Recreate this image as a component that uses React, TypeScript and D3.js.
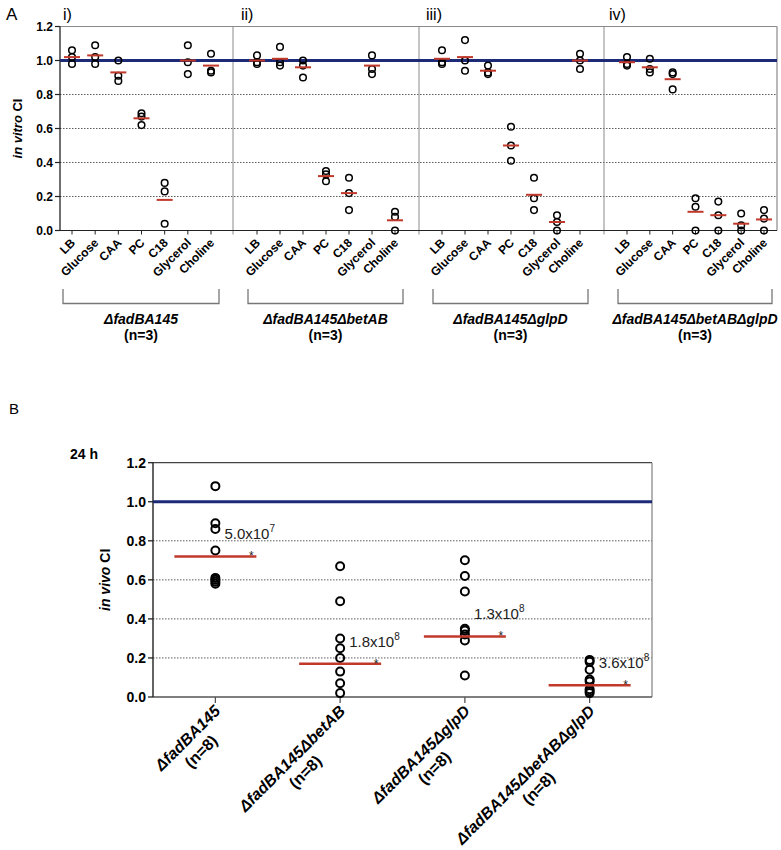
import React from "react";
import * as d3 from "d3";

// ---------- DATA ----------
const panelTitles = ["i)", "ii)", "iii)", "iv)"];
const strains = ["ΔfadBA145", "ΔfadBA145ΔbetAB", "ΔfadBA145ΔglpD", "ΔfadBA145ΔbetABΔglpD"];
const media = ["LB", "Glucose", "CAA", "PC", "C18", "Glycerol", "Choline"];
const nVitro = "(n=3)";
const nVivo = "(n=8)";

// in vitro CI, per medium (3 replicates each)
const vitroP1 = [[1.06, 1.02, 0.98], [1.09, 1.02, 0.98], [1.0, 0.91, 0.88], [0.69, 0.67, 0.62], [0.28, 0.23, 0.04], [1.09, 0.99, 0.92], [1.04, 0.94, 0.93]];
const vitroP2 = [[1.03, 0.99, 0.98], [1.08, 0.99, 0.97], [1.0, 0.97, 0.9], [0.35, 0.33, 0.29], [0.31, 0.22, 0.12], [1.03, 0.95, 0.92], [0.11, 0.08, 0.0]];
const vitroP3 = [[1.06, 0.99, 0.98], [1.12, 1.0, 0.94], [0.97, 0.93, 0.92], [0.61, 0.5, 0.41], [0.31, 0.19, 0.12], [0.09, 0.05, 0.0], [1.04, 1.0, 0.95]];
const vitroP4 = [[1.02, 0.98, 0.97], [1.01, 0.95, 0.93], [0.93, 0.92, 0.83], [0.19, 0.14, 0.0], [0.17, 0.09, 0.0], [0.1, 0.03, 0.0], [0.12, 0.07, 0.0]];
const vitroMeanP1 = [1.02, 1.03, 0.93, 0.66, 0.18, 1.0, 0.97];
const vitroMeanP2 = [1.0, 1.01, 0.96, 0.32, 0.22, 0.97, 0.06];
const vitroMeanP3 = [1.01, 1.02, 0.94, 0.5, 0.21, 0.05, 1.0];
const vitroMeanP4 = [0.99, 0.96, 0.89, 0.11, 0.09, 0.04, 0.065];

// in vivo CI at 24 h (8 mice each)
const vivo1 = [1.08, 0.89, 0.86, 0.75, 0.61, 0.6, 0.59, 0.58];
const vivo2 = [0.67, 0.49, 0.3, 0.25, 0.2, 0.13, 0.07, 0.02];
const vivo3 = [0.7, 0.62, 0.54, 0.35, 0.34, 0.32, 0.29, 0.11];
const vivo4 = [0.19, 0.18, 0.14, 0.09, 0.08, 0.04, 0.03, 0.02];
const vivoMeans = [0.72, 0.17, 0.31, 0.06];
const vivoAnnBase = ["5.0x10", "1.8x10", "1.3x10", "3.6x10"];
const vivoAnnExp = ["7", "8", "8", "8"];

const yTicks = [0, 0.2, 0.4, 0.6, 0.8, 1.0, 1.2];
const gridTicks = [0.2, 0.4, 0.6, 0.8];

// ---------- STYLE ----------
const FONT = "'Liberation Sans', Arial, Helvetica, sans-serif";
const RED = "#c0392b";
const NAVY = "#1c2a78";
const GRAY = "#8a8a8a";

let _ctx: CanvasRenderingContext2D | null = null;
function textWidth(t: string, font: string) {
  if (!_ctx) _ctx = document.createElement("canvas").getContext("2d");
  if (!_ctx) return t.length * 9;
  _ctx.font = font;
  return _ctx.measureText(t).width;
}

export default function App() {
  const W = 781, H = 850;
  const fmt = d3.format(".1f");

  // ---- Panel A geometry ----
  const aLeft = 60, aRight = 777, aTop = 26.5, aBottom = 230.5;
  const yA = d3.scaleLinear().domain([0, 1.2]).range([aBottom, aTop]);
  const panelRanges: [number, number][] = [[72, 211], [257, 395], [442, 580], [627, 764]];
  const separators = [233, 419, 604];
  const titleX = [63, 241, 426, 609];
  const vitro = [vitroP1, vitroP2, vitroP3, vitroP4];
  const vitroMeans = [vitroMeanP1, vitroMeanP2, vitroMeanP3, vitroMeanP4];
  const xAs = panelRanges.map((r) => d3.scalePoint<string>().domain(media).range(r));

  // ---- Panel B geometry ----
  const bLeft = 153, bRight = 652, bTop = 462.7, bBottom = 697;
  const yB = d3.scaleLinear().domain([0, 1.2]).range([bBottom, bTop]);
  const xB = d3.scalePoint<string>().domain(strains).range([bLeft, bRight]).padding(0.5);
  const vivo = [vivo1, vivo2, vivo3, vivo4];

  const labFontB = `italic bold 16px ${FONT}`;

  return (
    <svg width={W} height={H} style={{ position: "absolute", left: 0, top: 0, background: "#fff" }} fontFamily={FONT}>
      {/* ================= PANEL A ================= */}
      <text x={6} y={20} fontSize={17}>A</text>
      {panelTitles.map((t, i) => (
        <text key={t} x={titleX[i]} y={20} fontSize={16}>{t}</text>
      ))}
      {/* grid */}
      {gridTicks.map((v) => (
        <line key={v} x1={aLeft} x2={aRight} y1={yA(v)} y2={yA(v)} stroke="#333" strokeWidth={0.8} strokeDasharray="1.5,1.5" />
      ))}
      {/* frame */}
      <line x1={aLeft} x2={aRight} y1={aTop} y2={aTop} stroke={GRAY} strokeWidth={1.2} />
      <line x1={aRight} x2={aRight} y1={aTop} y2={aBottom} stroke={GRAY} strokeWidth={1.2} />
      {separators.map((s) => (
        <line key={s} x1={s} x2={s} y1={aTop} y2={aBottom + 4} stroke={GRAY} strokeWidth={1} />
      ))}
      <line x1={aLeft} x2={aRight} y1={aBottom} y2={aBottom} stroke="#222" strokeWidth={1.2} />
      <line x1={aLeft} x2={aLeft} y1={aTop} y2={aBottom} stroke="#222" strokeWidth={1.3} />
      {yTicks.map((v) => (
        <g key={v}>
          <line x1={aLeft - 5} x2={aLeft} y1={yA(v)} y2={yA(v)} stroke="#222" strokeWidth={1.2} />
          <text x={aLeft - 7} y={yA(v)} dy="0.35em" textAnchor="end" fontSize={12} fontWeight="bold">{fmt(v)}</text>
        </g>
      ))}
      <text transform={`translate(22,${(aTop + aBottom) / 2}) rotate(-90)`} textAnchor="middle" fontSize={13} fontWeight="bold">
        <tspan fontStyle="italic">in vitro</tspan> CI
      </text>
      {/* reference line */}
      <line x1={aLeft} x2={aRight} y1={yA(1)} y2={yA(1)} stroke={NAVY} strokeWidth={3} />
      {/* panels */}
      {vitro.map((panel, p) => {
        const x = xAs[p];
        return (
          <g key={p}>
            {media.map((m, j) => (
              <g key={m}>
                <line x1={x(m)} x2={x(m)} y1={aBottom} y2={aBottom + 4} stroke="#222" strokeWidth={1} />
                <text transform={`translate(${(x(m) as number) + 4},${aBottom + 13}) rotate(-45)`} textAnchor="end" fontSize={12} fontWeight="bold">{m}</text>
                {panel[j].map((v, k) => (
                  <circle key={k} cx={x(m)} cy={yA(v)} r={3.3} fill="none" stroke="#000" strokeWidth={1.5} />
                ))}
                <line x1={(x(m) as number) - 8} x2={(x(m) as number) + 8} y1={yA(vitroMeans[p][j])} y2={yA(vitroMeans[p][j])} stroke={RED} strokeWidth={2} />
              </g>
            ))}
            {(() => {
              const l = panelRanges[p][0] - 9, r = panelRanges[p][1] + 8, c = (l + r) / 2;
              return (
                <g>
                  <path d={`M${l},289 V303.5 H${r} V289`} fill="none" stroke="#777" strokeWidth={1.3} />
                  <text x={c} y={324} textAnchor="middle" fontSize={14} fontWeight="bold" fontStyle="italic">{strains[p]}</text>
                  <text x={c} y={340} textAnchor="middle" fontSize={14} fontWeight="bold">{nVitro}</text>
                </g>
              );
            })()}
          </g>
        );
      })}

      {/* ================= PANEL B ================= */}
      <text x={9} y={414} fontSize={15}>B</text>
      <text x={70} y={459} fontSize={14} fontWeight="bold">24 h</text>
      {gridTicks.map((v) => (
        <line key={v} x1={bLeft} x2={bRight} y1={yB(v)} y2={yB(v)} stroke="#333" strokeWidth={0.8} strokeDasharray="1.5,1.5" />
      ))}
      <line x1={bLeft} x2={bRight} y1={bTop} y2={bTop} stroke="#444" strokeWidth={1.3} />
      <line x1={bRight} x2={bRight} y1={bTop} y2={bBottom} stroke={GRAY} strokeWidth={1.3} />
      <line x1={bLeft} x2={bRight} y1={bBottom} y2={bBottom} stroke="#555" strokeWidth={1.4} />
      <line x1={bLeft} x2={bLeft} y1={bTop} y2={bBottom} stroke="#222" strokeWidth={1.4} />
      {yTicks.map((v) => (
        <g key={v}>
          <line x1={bLeft - 5} x2={bLeft} y1={yB(v)} y2={yB(v)} stroke="#222" strokeWidth={1.3} />
          <text x={bLeft - 7} y={yB(v)} dy="0.35em" textAnchor="end" fontSize={14} fontWeight="bold">{fmt(v)}</text>
        </g>
      ))}
      <text transform={`translate(110,${(bTop + bBottom) / 2}) rotate(-90)`} textAnchor="middle" fontSize={14} fontWeight="bold">
        <tspan fontStyle="italic">in vivo</tspan> CI
      </text>
      <line x1={bLeft} x2={bRight} y1={yB(1)} y2={yB(1)} stroke={NAVY} strokeWidth={3} />
      {strains.map((s, i) => {
        const cx = xB(s) as number;
        const w1 = textWidth(s, labFontB);
        const my = yB(vivoMeans[i]);
        return (
          <g key={s}>
            <line x1={cx} x2={cx} y1={bBottom} y2={bBottom + 6} stroke="#555" strokeWidth={1.3} />
            {vivo[i].map((v, k) => (
              <circle key={k} cx={cx} cy={yB(v)} r={4} fill="none" stroke="#000" strokeWidth={2} />
            ))}
            <line x1={cx - 41} x2={cx + 41} y1={my} y2={my} stroke={RED} strokeWidth={2.5} />
            <text x={cx + 9} y={my - 17} fontSize={15} fill="#222">
              {vivoAnnBase[i]}
              <tspan dy={-7} fontSize={10}>{vivoAnnExp[i]}</tspan>
            </text>
            <text x={cx + 36} y={my + 4} fontSize={12} textAnchor="middle" fill="#222">*</text>
            <g transform={`translate(${cx + 6},712) rotate(-45)`}>
              <text x={0} y={0} textAnchor="end" fontSize={16} fontWeight="bold" fontStyle="italic">{s}</text>
              <text x={-w1 / 2} y={19} textAnchor="middle" fontSize={16} fontWeight="bold">{nVivo}</text>
            </g>
          </g>
        );
      })}
    </svg>
  );
}
